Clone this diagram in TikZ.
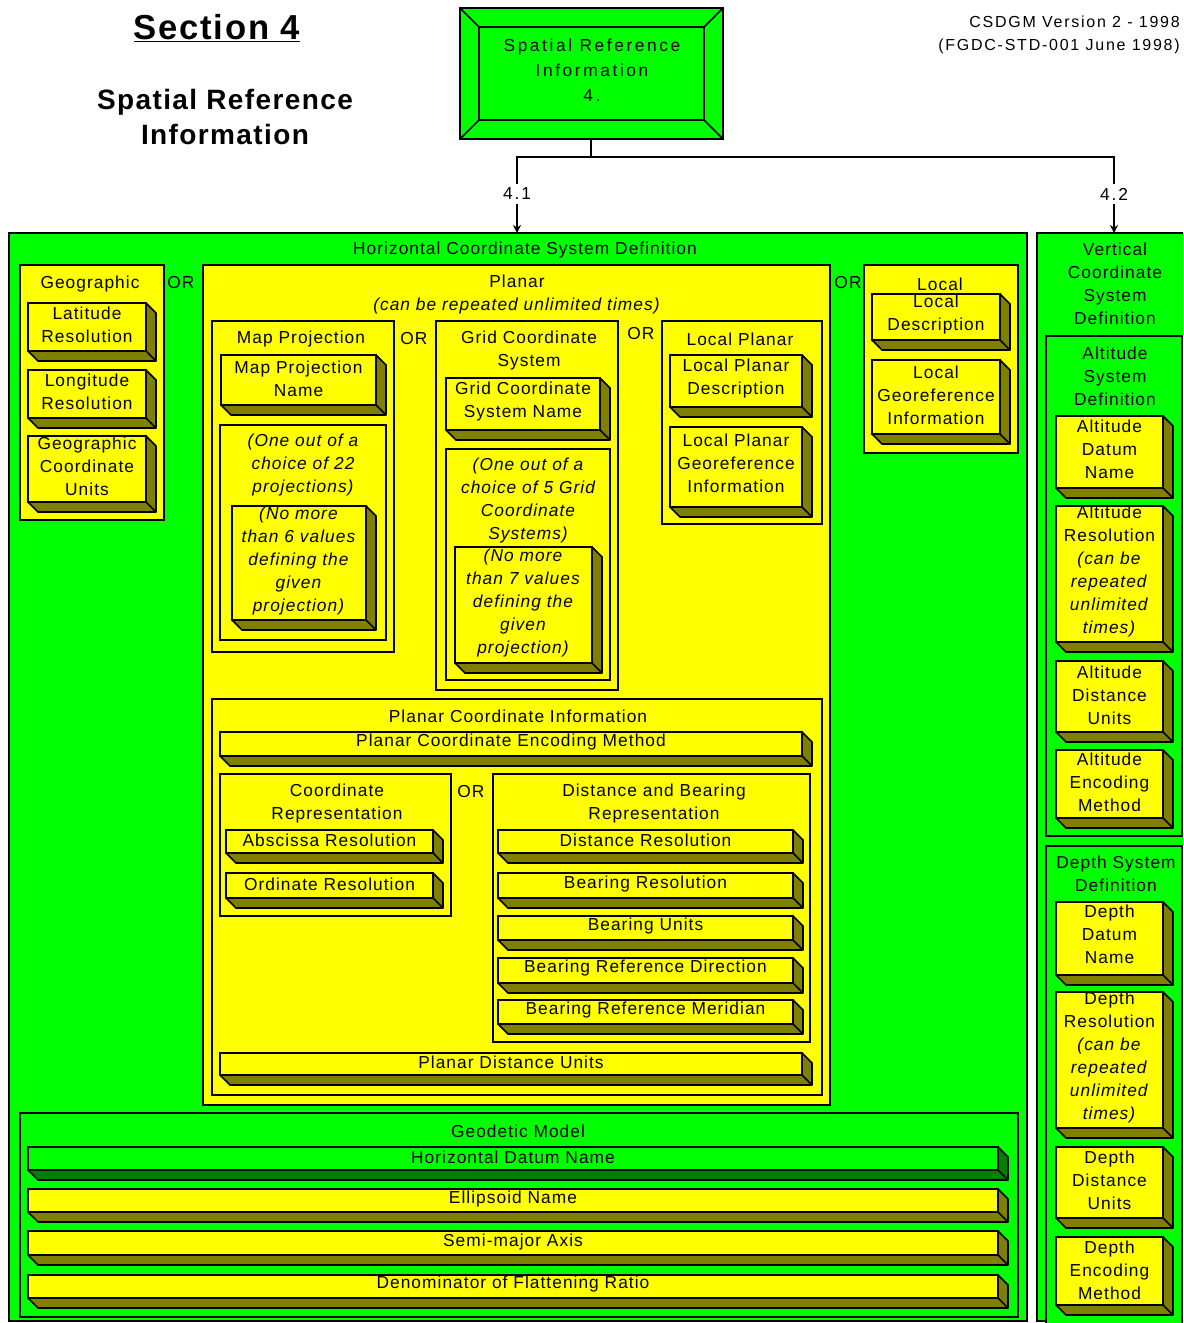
\documentclass[tikz,border=0pt]{standalone}
\usepackage{fontspec}
\setmainfont{Liberation Sans}
\newfontfamily\chartfont[LetterSpace=6]{Liberation Sans}
\newfontfamily\widefont[LetterSpace=15]{Liberation Sans}
\newfontfamily\notefont[LetterSpace=11]{Liberation Sans}
\usetikzlibrary{fit,arrows.meta}
\definecolor{boxgreen}{RGB}{0,255,0}
\definecolor{boxyellow}{RGB}{255,255,0}
\definecolor{olivesh}{RGB}{128,128,0}
\definecolor{darksh}{RGB}{0,128,0}
\tikzset{
  panel/.style={draw=black, line width=1.3pt, fill=boxyellow, inner sep=0pt, outer sep=0pt},
  gpanel/.style={panel, fill=boxgreen},
  edge/.style={draw=black, line width=1.3pt},
  wire/.style={draw=black, line width=1.4pt},
  txt/.style={align=center, inner sep=0pt, font={\chartfont\fontsize{13}{17.25}\selectfont}},
  numtxt/.style={txt, inner sep=3pt, font={\notefont\fontsize{13}{17.25}\selectfont}},
}
\newcommand{\slabfacecol}{boxyellow}
\newcommand{\slabsidecol}{olivesh}
\newcommand{\slabbox}[7]{%
  \filldraw[edge, fill=\slabsidecol, line join=round] (#4,#3) -- ({#4+10},{#3+10}) -- ({#4+10},{#5+10}) -- ({#2+10},{#5+10}) -- (#2,#5) -- (#4,#5) -- cycle;
  \node[panel, fill=\slabfacecol, fit={(#2,#3) (#4,#5)}] (#1) {};
  \draw[edge] (#4,#5) -- ({#4+10},{#5+10});
  \node[txt] (#1-t) at ({(#2+#4)/2},#6) {#7};
}
\begin{document}
\begin{tikzpicture}[x=0.75pt, y=-0.75pt, >={Stealth[length=6pt,width=6pt]}]
  \useasboundingbox (0,0) rectangle (1183,1323);
  \clip (0,0) rectangle (1183,1323);
  \fill[white] (0,0) rectangle (1183,1323);

  \node[inner sep=0pt, font={\bfseries\fontsize{26}{30}\selectfont\addfontfeature{LetterSpace=5}}] (sect) at (217,28) {\underline{Section 4}};
  \node[align=center, inner sep=0pt, font={\bfseries\fontsize{21}{26.25}\selectfont\addfontfeature{LetterSpace=5}}] (sect-sub) at (225,116.5) {Spatial Reference\\Information};
  \node[align=right, anchor=east, inner sep=0pt, font={\notefont\fontsize{12}{17.25}\selectfont}] (ver) at (1180,34.5) {CSDGM Version 2 - 1998\\(FGDC-STD-001 June 1998)};

  \node[gpanel, fit={(460,8) (723,139)}] (sri) {};
  \node[gpanel, fit={(479,27) (704,120)}] (sri-in) {};
  \foreach \c in {north west, north east, south west, south east}
    \draw[edge] (sri.\c) -- (sri-in.\c);
  \node[txt, font={\widefont\fontsize{13}{18.75}\selectfont}] (sri-t) at (592,70.5) {Spatial Reference\\Information\\4.};

  \node[gpanel, fit={(9,233) (1027,1321)}] (hcsd) {};
  \node[gpanel, fit={(1037,233) (1200,1321)}] (vcsd) {};

  \coordinate (split) at (591,157);
  \node[numtxt] (n41) at (517,194) {4.1};
  \node[numtxt] (n42) at (1114,194) {4.2};
  \draw[wire] (sri.south -| split) -- (split) -| (n41.north);
  \draw[wire] (split) -| (n42.north);
  \draw[wire, ->] (n41.south) -- (n41.south |- hcsd.north);
  \draw[wire, ->] (n42.south) -- (n42.south |- vcsd.north);

  \node[txt] (hcsd-t) at (525,250) {Horizontal Coordinate System Definition};
  \node[txt] (vcsd-t) at (1115,283.5) {Vertical\\Coordinate\\System\\Definition};

  \node[panel, fit={(20,265) (164,520)}] (geog) {};
  \node[txt] (geog-t) at (90,284) {Geographic};
  \slabbox{lat}{28}{303}{146}{351}{324.5}{Latitude\\Resolution}
  \slabbox{lon}{28}{370}{146}{418}{391.5}{Longitude\\Resolution}
  \slabbox{gcu}{28}{436}{146}{502}{466.5}{Geographic\\Coordinate\\Units}
  \node[txt] (or1) at (181,283) {OR};

  \node[panel, fit={(203,265) (830,1105)}] (planar) {};
  \node[txt] (planar-t) at (517,294.5) {Planar\\\textit{(can be repeated unlimited times)}};

  \node[panel, fit={(212,321) (394,652)}] (mapproj) {};
  \node[txt] (mapproj-t) at (301,339) {Map Projection};
  \slabbox{mpn}{221}{355}{376}{405}{379}{Map Projection\\Name}
  \node[panel, fit={(220,425) (386,640)}] (mpchoice) {};
  \node[txt, font={\chartfont\itshape\fontsize{13}{17.25}\selectfont}] (mpchoice-t) at (303,465.5) {(One out of a\\choice of 22\\projections)};
  \slabbox{mpval}{232}{506}{366}{620}{561}{\textit{(No more}\\\textit{than 6 values}\\\textit{defining the}\\\textit{given}\\\textit{projection)}}
  \node[txt] (or2) at (414,339) {OR};

  \node[panel, fit={(436,321) (618,690)}] (gridcs) {};
  \node[txt] (gridcs-t) at (529,350.5) {Grid Coordinate\\System};
  \slabbox{gcsn}{446}{378}{600}{430}{402}{Grid Coordinate\\System Name}
  \node[panel, fit={(446,449) (610,680)}] (gcchoice) {};
  \node[txt, font={\chartfont\itshape\fontsize{13}{17.25}\selectfont}] (gcchoice-t) at (528,501) {(One out of a\\choice of 5 Grid\\Coordinate\\Systems)};
  \slabbox{gcval}{455}{547}{592}{663}{603}{\textit{(No more}\\\textit{than 7 values}\\\textit{defining the}\\\textit{given}\\\textit{projection)}}
  \node[txt] (or3) at (641,334) {OR};

  \node[panel, fit={(662,321) (822,524)}] (localpl) {};
  \node[txt] (localpl-t) at (740,339) {Local Planar};
  \slabbox{lpd}{670}{355}{802}{407}{379}{Local Planar\\Description}
  \slabbox{lpgi}{670}{427}{802}{507}{463}{Local Planar\\Georeference\\Information}

  \node[panel, fit={(864,265) (1018,453)}] (local) {};
  \node[txt] (local-t) at (940,284) {Local};
  \slabbox{ld}{872}{294}{1000}{340}{314.5}{Local\\Description}
  \slabbox{lgi}{872}{360}{1000}{434}{395}{Local\\Georeference\\Information}
  \node[txt] (or4) at (848,283) {OR};

  \node[panel, fit={(212,699) (822,1095)}] (pci) {};
  \node[txt] (pci-t) at (518,716) {Planar Coordinate Information};
  \slabbox{pcem}{220}{732}{802}{756}{742}{Planar Coordinate Encoding Method}
  \node[panel, fit={(220,774) (451,916)}] (coordrep) {};
  \node[txt] (coordrep-t) at (337,803.5) {Coordinate\\Representation};
  \slabbox{absr}{226}{830}{433}{853}{840}{Abscissa Resolution}
  \slabbox{ordr}{226}{873}{433}{898}{884}{Ordinate Resolution}
  \node[txt] (or5) at (471,792) {OR};
  \node[panel, fit={(493,774) (810,1042)}] (dbrep) {};
  \node[txt] (dbrep-t) at (654,803.5) {Distance and Bearing\\Representation};
  \slabbox{distr}{498}{830}{793}{853}{840}{Distance Resolution}
  \slabbox{bearr}{498}{873}{793}{898}{884}{Bearing Resolution}
  \slabbox{bearu}{498}{916}{793}{940}{926}{Bearing Units}
  \slabbox{brd}{498}{958}{793}{983}{968}{Bearing Reference Direction}
  \slabbox{brm}{498}{1000}{793}{1024}{1010}{Bearing Reference Meridian}
  \slabbox{pdu}{220}{1053}{802}{1075}{1062}{Planar Distance Units}

  \node[gpanel, fit={(20,1113) (1018,1317)}] (geodetic) {};
  \node[txt] (geodetic-t) at (518,1131) {Geodetic Model};
  \begin{scope}
    \renewcommand{\slabfacecol}{boxgreen}
    \renewcommand{\slabsidecol}{darksh}
    \slabbox{hdn}{28}{1147}{998}{1170}{1157}{Horizontal Datum Name}
  \end{scope}
  \slabbox{ell}{28}{1189}{998}{1212}{1199}{Ellipsoid Name}
  \slabbox{sma}{28}{1231}{998}{1255}{1242}{Semi-major Axis}
  \slabbox{dfr}{28}{1275}{998}{1298}{1284}{Denominator of Flattening Ratio}

  \node[gpanel, fit={(1046,336) (1182,836)}] (altsys) {};
  \node[txt] (altsys-t) at (1115,376) {Altitude\\System\\Definition};
  \slabbox{adn}{1056}{416}{1163}{488}{449.5}{Altitude\\Datum\\Name}
  \slabbox{ares}{1056}{506}{1163}{642}{571.5}{Altitude\\Resolution\\\textit{(can be}\\\textit{repeated}\\\textit{unlimited}\\\textit{times)}}
  \slabbox{adu}{1056}{661}{1163}{732}{695}{Altitude\\Distance\\Units}
  \slabbox{aem}{1056}{750}{1163}{818}{782}{Altitude\\Encoding\\Method}

  \node[gpanel, fit={(1046,846) (1182,1330)}] (depthsys) {};
  \node[txt] (depthsys-t) at (1116,874) {Depth System\\Definition};
  \slabbox{ddn}{1056}{902}{1163}{975}{934}{Depth\\Datum\\Name}
  \slabbox{dres}{1056}{992}{1163}{1128}{1057.5}{Depth\\Resolution\\\textit{(can be}\\\textit{repeated}\\\textit{unlimited}\\\textit{times)}}
  \slabbox{ddu}{1056}{1147}{1163}{1218}{1180}{Depth\\Distance\\Units}
  \slabbox{dem}{1056}{1237}{1163}{1305}{1270}{Depth\\Encoding\\Method}
\end{tikzpicture}
\end{document}
